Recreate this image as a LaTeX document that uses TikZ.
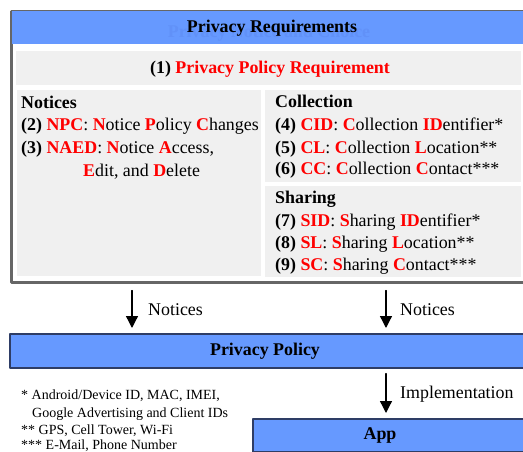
\documentclass[tikz,border=0pt]{standalone}
\usepackage{fontspec}
\setmainfont{Liberation Serif}
\usetikzlibrary{arrows.meta}

\definecolor{reqblue}{HTML}{6699FF}
\definecolor{ghostblue}{HTML}{6191F8}
\definecolor{reqgray}{HTML}{F0F0F0}
\definecolor{rimgray}{HTML}{666666}
\definecolor{rimnavy}{HTML}{2E3D66}
\definecolor{reqred}{HTML}{FF0000}
\newcommand{\rd}[1]{\textbf{\textcolor{reqred}{#1}}}

\begin{document}
\begin{tikzpicture}[x=1pt,y=-1pt,line cap=round,line join=round,
  txt/.style={inner sep=0pt,anchor=base west,font=\fontsize{17.9}{22}\selectfont},
  head/.style={inner sep=0pt,anchor=base,font=\fontsize{17.9}{22}\selectfont\bfseries},
  note/.style={inner sep=0pt,anchor=base west,font=\fontsize{14}{16}\selectfont},
  panel/.style={fill=reqgray,draw=none,inner sep=0pt,anchor=north west},
  bluebar/.style={fill=reqblue,draw=rimnavy,line width=1.6pt,inner sep=0pt,anchor=north west},
  arr/.style={line width=1.3pt,-{Triangle[width=12pt,length=12pt]}}]
  \useasboundingbox (0,0) rectangle (523,452);

  % outer frame with its title bar
  \node[draw=rimgray,line width=3pt,inner sep=0pt,anchor=north west,
        minimum width=560pt,minimum height=270.5pt] (req) at (10,10) {};
  \fill[reqblue] (11.5,11.5) rectangle (570,44.5);
  \node[head,text=ghostblue] (ghost) at (269,37.5) {Privacy Notice and Choice};
  \node[head] (reqtitle) at (272,32.5) {Privacy Requirements};

  % grey panels
  \node[panel,minimum width=505pt,minimum height=34pt] (pp) at (16,51) {};
  \node[panel,minimum width=244pt,minimum height=186pt] (notices) at (17,90) {};
  \node[panel,minimum width=256pt,minimum height=92pt] (collection) at (265,90) {};
  \node[panel,minimum width=256pt,minimum height=91pt] (sharing) at (265,186) {};

  \node[head] (pptext) at (270,73.5) {(1) \rd{Privacy Policy Requirement}};

  \node[txt] (nt0) at (21,108.5) {\textbf{Notices}};
  \node[txt] (nt1) at (21,131) {\textbf{(2)} \rd{NPC}: \rd{N}otice \rd{P}olicy \rd{C}hanges};
  \node[txt] (nt2) at (21,153.5) {\textbf{(3)} \rd{NAED}: \rd{N}otice \rd{A}ccess,};
  \node[txt] (nt3) at (83,176) {\rd{E}dit, and \rd{D}elete};

  \node[txt] (cl0) at (275,108) {\textbf{Collection}};
  \node[txt] (cl1) at (275,131) {\textbf{(4)} \rd{CID}: \rd{C}ollection \rd{ID}entifier*};
  \node[txt] (cl2) at (275,153.5) {\textbf{(5)} \rd{CL}: \rd{C}ollection \rd{L}ocation**};
  \node[txt] (cl3) at (275,175) {\textbf{(6)} \rd{CC}: \rd{C}ollection \rd{C}ontact***};

  \node[txt] (sh0) at (275,203.5) {\textbf{Sharing}};
  \node[txt] (sh1) at (275,226.5) {\textbf{(7)} \rd{SID}: \rd{S}haring \rd{ID}entifier*};
  \node[txt] (sh2) at (275,248.5) {\textbf{(8)} \rd{SL}: \rd{S}haring \rd{L}ocation**};
  \node[txt] (sh3) at (275,270.5) {\textbf{(9)} \rd{SC}: \rd{S}haring \rd{C}ontact***};

  % policy and app bars
  \node[bluebar,minimum width=560pt,minimum height=34pt] (policy) at (9,333) {};
  \node[head] (policytext) at (265,355.5) {Privacy Policy};
  \node[bluebar,minimum width=300pt,minimum height=33pt] (app) at (252,418) {};
  \node[head] (apptext) at (380,439.5) {App};

  % arrows
  \coordinate (lx) at (132,0);
  \coordinate (rx) at (386,0);
  \draw[arr] ([yshift=-7pt]req.south -| lx) -- ([yshift=5pt]policy.north -| lx);
  \draw[arr] ([yshift=-7pt]req.south -| rx) -- ([yshift=5pt]policy.north -| rx);
  \draw[arr] ([yshift=-5pt]policy.south -| rx) -- ([yshift=5pt]app.north -| rx);
  \node[txt] (lnote) at (148,315) {Notices};
  \node[txt] (rnote) at (400,315) {Notices};
  \node[txt] (impl) at (400,398.5) {Implementation};

  % footnotes
  \node[note] (fn1) at (21,399) {* Android/Device ID, MAC, IMEI,};
  \node[note] (fn2) at (32,417) {Google Advertising and Client IDs};
  \node[note] (fn3) at (21,434) {** GPS, Cell Tower, Wi-Fi};
  \node[note] (fn4) at (21,449.5) {*** E-Mail, Phone Number};
\end{tikzpicture}
\end{document}
